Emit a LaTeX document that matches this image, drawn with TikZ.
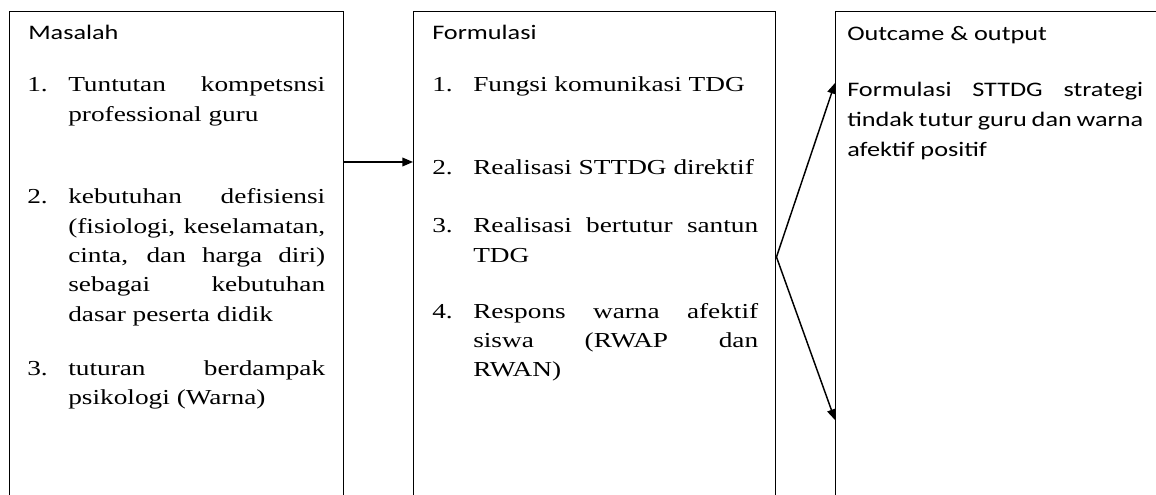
\documentclass[tikz,border=0pt]{standalone}
\usepackage{fontspec}
\setmainfont{Liberation Serif}[FakeStretch=1.28]
\newfontfamily\hdfont{Carlito}[FakeStretch=1.27]
\usetikzlibrary{arrows.meta}
\newcommand\jpar[2]{\parbox[t]{#1}{\hyphenpenalty=10000 \exhyphenpenalty=10000 \tolerance=10000 #2}}
\begin{document}
\begin{tikzpicture}[x=0.75pt,y=-0.75pt,
  box/.style={draw, line width=1.1pt, inner sep=0, anchor=north west, minimum height=390pt},
  conn/.style={line width=1.1pt, -{Triangle[length=8pt,width=6.5pt]}},
  title/.style={anchor=base west, inner sep=0, font=\hdfont\fontsize{15.5}{22.5}\selectfont},
  body/.style={anchor=base west, inner sep=0, font=\fontsize{16}{21.97}\selectfont},
  sbody/.style={anchor=base west, inner sep=0, font=\hdfont\fontsize{15.5}{22.5}\selectfont},
]
\useasboundingbox (0,0) rectangle (1156,495);
\clip (0,0) rectangle (1156,495);

% boxes
\node[box, minimum width=250.5pt] (masalah) at (9,11) {};
\node[box, minimum width=271.5pt] (formulasi) at (413,11) {};
\node[box, minimum width=300pt] (outcome) at (835,11) {};

% left box
\node[title] (t1) at (28,40) {Masalah};
\node[body] (n11) at (27,92) {1.};
\node[body] (i11) at (68,92) {\jpar{192.75pt}{Tuntutan kompetsnsi\linebreak professional guru}};
\node[body] (n12) at (27,204) {2.};
\node[body] (i12) at (68,204) {\jpar{192.75pt}{kebutuhan defisiensi\linebreak (fisiologi, keselamatan,\linebreak cinta, dan harga diri)\linebreak sebagai kebutuhan\linebreak dasar peserta didik}};
\node[body] (n13) at (27,375) {3.};
\node[body] (i13) at (68,375) {\jpar{192.75pt}{tuturan berdampak\linebreak psikologi (Warna)}};

% middle box
\node[title] (t2) at (432,40) {Formulasi};
\node[body] (n21) at (432,92) {1.};
\node[body] (i21) at (473,92) {\jpar{213.75pt}{Fungsi komunikasi TDG}};
\node[body] (n22) at (432,175) {2.};
\node[body] (i22) at (473,175) {\jpar{213.75pt}{Realisasi STTDG direktif}};
\node[body] (n23) at (432,233) {3.};
\node[body] (i23) at (473,233) {\jpar{213.75pt}{Realisasi bertutur santun\linebreak TDG}};
\node[body] (n24) at (432,318) {4.};
\node[body] (i24) at (473,318) {\jpar{213.75pt}{Respons warna afektif\linebreak siswa (RWAP dan\linebreak RWAN)}};

% right box
\node[title] (t3) at (847,41) {Outcame \& output};
\node[sbody] (i31) at (847,97) {\jpar{222pt}{Formulasi STTDG strategi\linebreak tindak tutur guru dan warna\linebreak afektif positif}};

% connectors
\coordinate (ya) at (0,162);
\coordinate (yf) at (0,257);
\coordinate (yu) at (0,83);
\coordinate (yd) at (0,420);
\coordinate (fan) at (formulasi.east |- yf);
\draw[conn] (masalah.east |- ya) -- (formulasi.west |- ya);
\draw[conn] (fan) -- (outcome.west |- yu);
\draw[conn] (fan) -- (outcome.west |- yd);
\end{tikzpicture}
\end{document}
